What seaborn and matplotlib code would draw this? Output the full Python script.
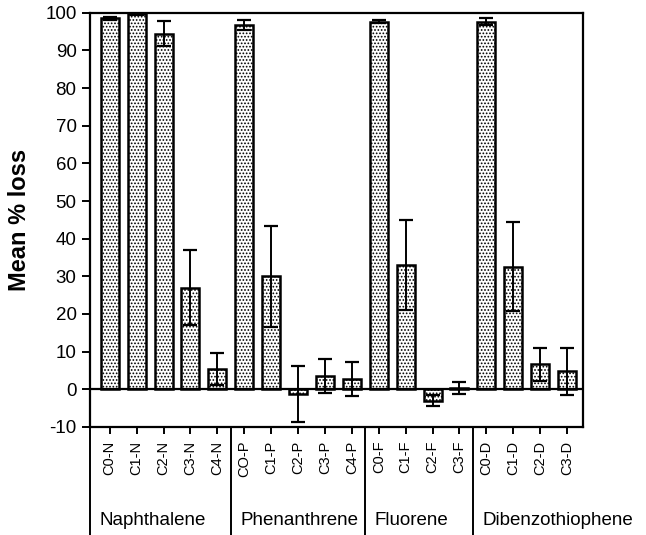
import pandas as pd
import matplotlib.pyplot as plt
import seaborn as sns

compostos = ['C0-N', 'C1-N', 'C2-N', 'C3-N', 'C4-N',
             'CO-P', 'C1-P', 'C2-P', 'C3-P', 'C4-P',
             'C0-F', 'C1-F', 'C2-F', 'C3-F',
             'C0-D', 'C1-D', 'C2-D', 'C3-D']
perda_media = [98.5, 99.6, 94.5, 27.0, 5.4,
               96.8, 30.0, -1.2, 3.6, 2.7,
               97.6, 33.0, -3.0, 0.3,
               97.6, 32.6, 6.6, 4.8]
erro = [0.4, 0.3, 3.3, 10.0, 4.3,
        1.4, 13.5, 7.5, 4.5, 4.5,
        0.4, 12.0, 1.4, 1.6,
        0.9, 11.9, 4.5, 6.3]
grupos = ['Naphthalene', 'Phenanthrene', 'Fluorene', 'Dibenzothiophene']
tamanho_grupos = [5, 5, 4, 4]
ticks_y = list(range(-10, 101, 10))

sns.set_style('white')
plt.rcParams['font.family'] = ['Liberation Sans', 'DejaVu Sans']
plt.rcParams['hatch.linewidth'] = 0.8

df = pd.DataFrame({'composto': compostos, 'perda': perda_media, 'erro': erro})

fig = plt.figure(figsize=(6.46, 5.35), dpi=100)
ax = fig.add_axes([0.139, 0.202, 0.763, 0.774])
sns.barplot(data=df, x='composto', y='perda', ax=ax, color='white',
            edgecolor='black', linewidth=1.8, width=0.67, errorbar=None)
for p in ax.patches:
    p.set_hatch('.....')
ax.errorbar(range(len(compostos)), perda_media, yerr=erro, fmt='none',
            ecolor='black', elinewidth=1.4, capsize=5, capthick=1.6)

ax.axhline(0, color='black', lw=1.6)
ax.set_ylim(-10, 100)
ax.set_xlim(-0.74, 17.58)
ax.set_yticks(ticks_y)
ax.set_yticklabels([str(t) for t in ticks_y])
ax.tick_params(axis='y', direction='out', length=6, width=1.4, labelsize=13.5,
               left=True, labelcolor='black', color='black')
ax.tick_params(axis='x', direction='out', length=5, width=1.4, labelsize=10.5,
               labelrotation=90, bottom=True, labelcolor='black', color='black', pad=5)
for s in ax.spines.values():
    s.set_color('black')
    s.set_linewidth(1.6)
ax.set_xlabel('')
ax.set_ylabel('Mean % loss', fontsize=17, fontweight='bold', labelpad=10, color='black')

# divisões dos grupos abaixo do eixo
inicio = 0
for nome, n in zip(grupos, tamanho_grupos):
    x0 = inicio - 0.5 if inicio > 0 else -0.74
    ax.plot([x0, x0], [-10, -38.6], color='black', lw=1.4, clip_on=False)
    ax.text(x0 + 0.36, -34.8, nome, fontsize=13.5, ha='left', va='center', color='black')
    inicio += n

plt.savefig('out.png', dpi=100)
